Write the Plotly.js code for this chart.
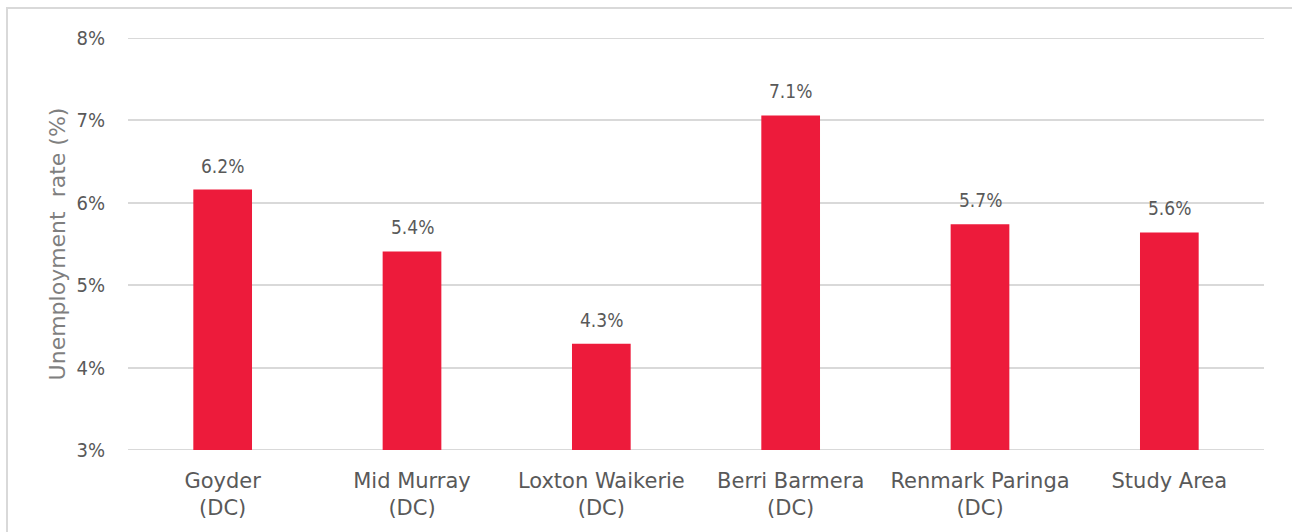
<!DOCTYPE html>
<html>
<head>
<meta charset="utf-8">
<script src="https://cdn.plot.ly/plotly-3.0.1.min.js"></script>
<style>
  html, body { margin: 0; padding: 0; background: #ffffff; }
  #wrap { position: relative; width: 1292px; height: 532px; overflow: hidden; }
  #chart { position: absolute; left: 0; top: 0; width: 1292px; height: 532px; }
  #frame { position: absolute; left: 6px; top: 7px; width: 1300px; height: 540px;
           border-left: 2px solid #d9d9d9; border-top: 2px solid #d9d9d9; pointer-events: none; }
</style>
</head>
<body>
<div id="wrap">
  <div id="chart"></div>
  <div id="frame"></div>
</div>
<script>
const categories = [
  "Goyder<br>(DC)",
  "Mid Murray<br>(DC)",
  "Loxton Waikerie<br>(DC)",
  "Berri Barmera<br>(DC)",
  "Renmark Paringa<br>(DC)",
  "Study Area"
];
const unemploymentRate = [6.16, 5.41, 4.29, 7.06, 5.74, 5.64];
const tickValues = [3, 4, 5, 6, 7, 8];
const tickLabels = ["3%", "4%", "5%", "6%", "7%", "8%"];

const fontFamily = "'DejaVu Sans', Verdana, sans-serif";
const condFamily = "'DejaVu Sans Condensed', 'DejaVu Sans', sans-serif";
const textGrey = "#595959";
const gridGrey = "#d9d9d9";

const trace = {
  type: "bar",
  x: categories,
  y: unemploymentRate,
  base: 0,
  marker: { color: "#ED1B3B" },
  hoverinfo: "skip"
};

const valueLabels = categories.map((c, i) => ({
  x: c,
  y: unemploymentRate[i],
  xref: "x",
  yref: "y",
  text: unemploymentRate[i].toFixed(1) + "%",
  showarrow: false,
  yanchor: "bottom",
  yshift: 11,
  font: { family: condFamily, size: 19, color: textGrey }
}));

// Plotly drops gridlines sitting exactly on the range ends; draw those two here.
const yMin = tickValues[0];
const yMax = tickValues[tickValues.length - 1];
const endGridlines = [yMin, yMax].map(v => ({
  type: "line",
  xref: "paper",
  yref: "y",
  x0: 0, x1: 1,
  y0: v, y1: v,
  layer: "below",
  line: { color: gridGrey, width: 2 }
}));

const layout = {
  width: 1292,
  height: 532,
  margin: { l: 128, r: 28, t: 38, b: 82 },
  paper_bgcolor: "#ffffff",
  plot_bgcolor: "#ffffff",
  bargap: 0.69,
  showlegend: false,
  font: { family: fontFamily, color: textGrey },
  annotations: valueLabels,
  shapes: endGridlines,
  xaxis: {
    type: "category",
    showgrid: false,
    showline: false,
    zeroline: false,
    ticks: "",
    ticklabelstandoff: 16,
    tickfont: { family: fontFamily, size: 21, color: textGrey },
    automargin: false
  },
  yaxis: {
    range: [yMin, yMax],
    tickvals: tickValues,
    ticktext: tickLabels,
    showgrid: true,
    gridcolor: gridGrey,
    gridwidth: 2,
    zeroline: false,
    showline: false,
    ticks: "",
    ticklabelstandoff: 22,
    tickfont: { family: condFamily, size: 20, color: textGrey },
    title: {
      text: "Unemployment  rate (%)",
      font: { family: fontFamily, size: 22, color: "#7f7f7f" },
      standoff: 4
    },
    automargin: false
  }
};

Plotly.newPlot("chart", [trace], layout, { displayModeBar: false, staticPlot: true });
</script>
</body>
</html>
